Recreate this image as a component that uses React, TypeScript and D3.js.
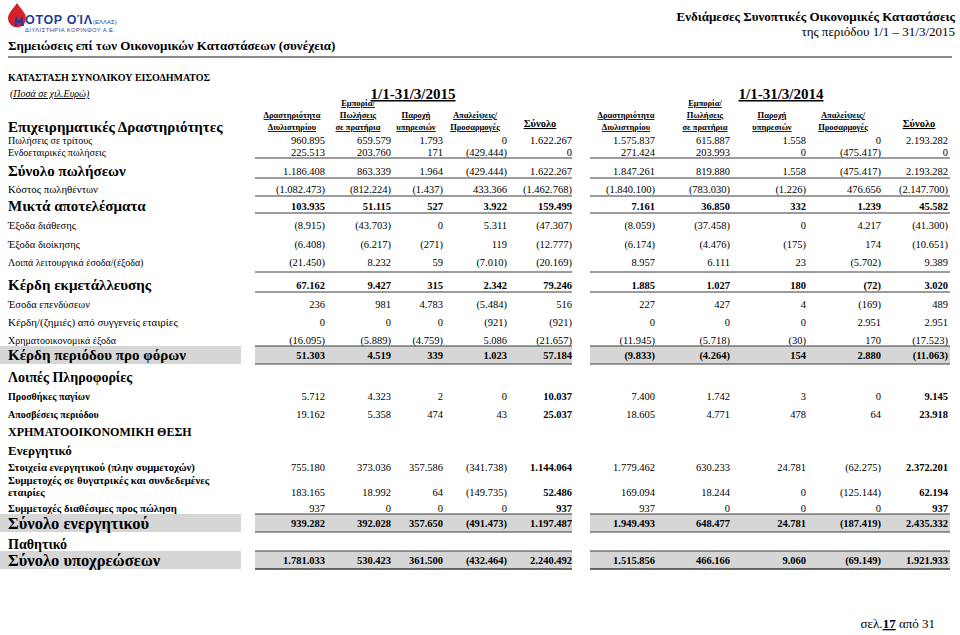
import * as d3 from 'd3';

const W = 960;
const H = 635;
const SERIF = '"Liberation Serif", "Times New Roman", serif';
const SANS = '"Liberation Sans", Arial, sans-serif';

// ---- data ----
const columns = ['refinery', 'retail', 'services', 'eliminations', 'total'];
const columnHeaders = [
  ['Δραστηριότητα', 'Διυλιστηρίου'],
  ['Εμπορία/', 'Πωλήσεις', 'σε πρατήρια'],
  ['Παροχή', 'υπηρεσιών'],
  ['Απαλείψεις/', 'Προσαρμογές'],
  ['Σύνολο'],
];
const periods = ['1/1-31/3/2015', '1/1-31/3/2014'];

const rowLabels = [
  'Πωλήσεις σε τρίτους',
  'Ενδοεταιρικές πωλήσεις',
  'Σύνολο πωλήσεων',
  'Κόστος πωληθέντων',
  'Μικτά αποτελέσματα',
  'Έξοδα διάθεσης',
  'Έξοδα διοίκησης',
  'Λοιπά λειτουργικά έσοδα/(έξοδα)',
  'Κέρδη εκμετάλλευσης',
  'Έσοδα επενδύσεων',
  'Κέρδη/(ζημιές) από συγγενείς εταιρίες',
  'Χρηματοοικονομικά έξοδα',
  'Κέρδη περιόδου προ φόρων',
  'Λοιπές Πληροφορίες',
  'Προσθήκες παγίων',
  'Αποσβέσεις περιόδου',
  'ΧΡΗΜΑΤΟΟΙΚΟΝΟΜΙΚΗ ΘΕΣΗ',
  'Ενεργητικό',
  'Στοιχεία ενεργητικού (πλην συμμετοχών)',
  'Συμμετοχές σε θυγατρικές και συνδεδεμένες\nεταιρίες',
  'Συμμετοχές διαθέσιμες προς πώληση',
  'Σύνολο ενεργητικού',
  'Παθητικό',
  'Σύνολο υποχρεώσεων',
];

const values2015: (number[] | null)[] = [
  [960895, 659579, 1793, 0, 1622267],
  [225513, 203760, 171, -429444, 0],
  [1186408, 863339, 1964, -429444, 1622267],
  [-1082473, -812224, -1437, 433366, -1462768],
  [103935, 51115, 527, 3922, 159499],
  [-8915, -43703, 0, 5311, -47307],
  [-6408, -6217, -271, 119, -12777],
  [-21450, 8232, 59, -7010, -20169],
  [67162, 9427, 315, 2342, 79246],
  [236, 981, 4783, -5484, 516],
  [0, 0, 0, -921, -921],
  [-16095, -5889, -4759, 5086, -21657],
  [51303, 4519, 339, 1023, 57184],
  null,
  [5712, 4323, 2, 0, 10037],
  [19162, 5358, 474, 43, 25037],
  null,
  null,
  [755180, 373036, 357586, -341738, 1144064],
  [183165, 18992, 64, -149735, 52486],
  [937, 0, 0, 0, 937],
  [939282, 392028, 357650, -491473, 1197487],
  null,
  [1781033, 530423, 361500, -432464, 2240492],
];

const values2014: (number[] | null)[] = [
  [1575837, 615887, 1558, 0, 2193282],
  [271424, 203993, 0, -475417, 0],
  [1847261, 819880, 1558, -475417, 2193282],
  [-1840100, -783030, -1226, 476656, -2147700],
  [7161, 36850, 332, 1239, 45582],
  [-8059, -37458, 0, 4217, -41300],
  [-6174, -4476, -175, 174, -10651],
  [8957, 6111, 23, -5702, 9389],
  [1885, 1027, 180, -72, 3020],
  [227, 427, 4, -169, 489],
  [0, 0, 0, 2951, 2951],
  [-11945, -5718, -30, 170, -17523],
  [-9833, -4264, 154, 2880, -11063],
  null,
  [7400, 1742, 3, 0, 9145],
  [18605, 4771, 478, 64, 23918],
  null,
  null,
  [1779462, 630233, 24781, -62275, 2372201],
  [169094, 18244, 0, -125144, 62194],
  [937, 0, 0, 0, 937],
  [1949493, 648477, 24781, -187419, 2435332],
  null,
  [1515856, 466166, 9060, -69149, 1921933],
];

// ---- layout ----
// y centre, label size, label bold, grey band, which values are bold
const rowLayout = [
  { y: 140, size: 10, bold: false, band: false, vb: 'none' },
  { y: 152, size: 10, bold: false, band: false, vb: 'none' },
  { y: 171, size: 15, bold: true, band: false, vb: 'none' },
  { y: 189, size: 10.8, bold: false, band: false, vb: 'none' },
  { y: 206, size: 15, bold: true, band: false, vb: 'all' },
  { y: 225, size: 10.5, bold: false, band: false, vb: 'none' },
  { y: 244, size: 10.5, bold: false, band: false, vb: 'none' },
  { y: 262, size: 10, bold: false, band: false, vb: 'none' },
  { y: 285, size: 15, bold: true, band: false, vb: 'all' },
  { y: 304, size: 10.5, bold: false, band: false, vb: 'none' },
  { y: 322, size: 11, bold: false, band: false, vb: 'none' },
  { y: 340, size: 10, bold: false, band: false, vb: 'none' },
  { y: 355, size: 15, bold: true, band: true, vb: 'all' },
  { y: 377, size: 14, bold: true, band: false, vb: 'none' },
  { y: 396, size: 10, bold: true, band: false, vb: 'total' },
  { y: 414, size: 10, bold: true, band: false, vb: 'total' },
  { y: 432, size: 12, bold: true, band: false, vb: 'none' },
  { y: 450, size: 13, bold: true, band: false, vb: 'none' },
  { y: 467, size: 10.7, bold: true, band: false, vb: 'total' },
  { y: 492, size: 10.7, bold: true, band: false, vb: 'total' },
  { y: 508, size: 10.7, bold: true, band: false, vb: 'total' },
  { y: 523, size: 16.5, bold: true, band: true, vb: 'all' },
  { y: 544, size: 14, bold: true, band: false, vb: 'none' },
  { y: 560, size: 16.5, bold: true, band: true, vb: 'all' },
];
const rules = [158, 178, 196, 213, 272, 292, 346, 364, 514, 532, 551, 569];
const groupSpan = [[255, 572], [590, 950]];
const periodCenter = [413, 781];
const numRight = [[325, 391, 443, 507, 572], [655, 730, 806, 881, 948]];
const headCenter = [[292, 358, 416, 475, 540], [626, 705, 772, 843, 919]];

const locale = d3.formatLocale({ decimal: ',', thousands: '.', grouping: [3], currency: ['', '€'] });
const fmt = locale.format('(,.0f');

export default function App() {
  const xNum = periods.map((_, p) => d3.scaleOrdinal<string, number>().domain(columns).range(numRight[p]));
  const xHead = periods.map((_, p) => d3.scaleOrdinal<string, number>().domain(columns).range(headCenter[p]));
  const valuesByPeriod = [values2015, values2014];

  return (
    <div style={{ position: 'absolute', left: 0, top: 0 }}>
      <svg width={W} height={H} style={{ display: 'block', background: '#fff' }} fontFamily={SERIF}>
        {/* logo */}
        <path d="M17,3 C21,9 26,13 26,18.5 A9,9 0 1 1 8,18.5 C8,13 13,9 17,3 Z" fill="#d8202c" />
        <path d="M14,26 L16,16 L19,21 L22,16 L24,26 L21,26 L20.5,21.5 L19,24 L17.5,21.5 L17,26 Z" fill="#1f3f99" />
        <text x={25} y={24} fontFamily={SANS} fontWeight="bold" fontSize={12.5} fill="#1f3f99" textLength={67}>OTOP OΊΛ</text>
        <text x={93} y={24} fontFamily={SANS} fontSize={6} fill="#1f3f99">(ΕΛΛΑΣ)</text>
        <text x={25} y={32} fontFamily={SANS} fontSize={5.8} fill="#1f3f99" textLength={90}>ΔΙΥΛΙΣΤΗΡΙΑ ΚΟΡΙΝΘΟΥ Α.Ε.</text>

        {/* page header */}
        <text x={8} y={50} fontSize={13} fontWeight="bold">Σημειώσεις επί των Οικονομικών Καταστάσεων (συνέχεια)</text>
        <text x={955} y={21} fontSize={13} fontWeight="bold" textAnchor="end">Ενδιάμεσες Συνοπτικές Οικονομικές Καταστάσεις</text>
        <text x={955} y={36} fontSize={13} textAnchor="end">της περιόδου 1/1 – 31/3/2015</text>
        <line x1={8} x2={952} y1={57} y2={57} stroke="#8a8a8a" strokeWidth={2} />

        <text x={8} y={81} fontSize={10} fontWeight="bold">ΚΑΤΑΣΤΑΣΗ ΣΥΝΟΛΙΚΟΥ ΕΙΣΟΔΗΜΑΤΟΣ</text>
        <text x={10} y={97} fontSize={10} fontStyle="italic" style={{ textDecoration: 'underline' }}>(Ποσά σε χιλ.Ευρώ)</text>
        <text x={8} y={132} fontSize={15} fontWeight="bold">Επιχειρηματικές Δραστηριότητες</text>

        {/* grey bands */}
        {rowLayout.map((r, i) =>
          r.band ? (
            <g key={`band${i}`} fill="#d6d6d6">
              <rect x={0} y={r.y - 9} width={241} height={18} />
              {groupSpan.map((g, p) => (
                <rect key={p} x={g[0]} y={r.y - 9} width={g[1] - g[0]} height={18} />
              ))}
            </g>
          ) : null,
        )}

        {/* period headings and column headers */}
        {periods.map((per, p) => (
          <g key={per}>
            <text x={periodCenter[p]} y={99} fontSize={15} fontWeight="bold" textAnchor="middle" style={{ textDecoration: 'underline' }}>
              {per}
            </text>
            {columns.map((c, ci) => {
              const lines = columnHeaders[ci];
              const isTotal = c === 'total';
              return lines.map((ln, li) => (
                <text
                  key={c + li}
                  x={xHead[p](c)}
                  y={isTotal ? 127 : 130 - (lines.length - 1 - li) * 12}
                  fontSize={isTotal ? 10.5 : 8.5}
                  fontWeight="bold"
                  textAnchor="middle"
                  style={{ textDecoration: 'underline' }}
                >
                  {ln}
                </text>
              ));
            })}
          </g>
        ))}

        {/* rules */}
        {rules.map((y) =>
          groupSpan.map((g, p) => (
            <line key={`${y}-${p}`} x1={g[0]} x2={g[1]} y1={y} y2={y} stroke="#3a3a3a" strokeWidth={y === 569 ? 1.5 : 1} />
          )),
        )}

        {/* row labels */}
        {rowLabels.map((lab, i) => {
          const r = rowLayout[i];
          const lines = lab.split('\n');
          return lines.map((ln, li) => (
            <text
              key={`l${i}-${li}`}
              x={8}
              y={r.y + r.size * 0.35 - (lines.length - 1 - li) * 12}
              fontSize={r.size}
              fontWeight={r.bold ? 'bold' : 'normal'}
            >
              {ln}
            </text>
          ));
        })}

        {/* values */}
        {valuesByPeriod.map((vals, p) =>
          vals.map((row, i) =>
            row
              ? row.map((v, ci) => {
                  const r = rowLayout[i];
                  const bold = r.vb === 'all' || (r.vb === 'total' && columns[ci] === 'total');
                  return (
                    <text
                      key={`v${p}-${i}-${ci}`}
                      x={xNum[p](columns[ci])}
                      y={r.y + 3.7}
                      fontSize={10.5}
                      fontWeight={bold ? 'bold' : 'normal'}
                      textAnchor="end"
                    >
                      {fmt(v)}
                    </text>
                  );
                })
              : null,
          ),
        )}

        {/* footer */}
        <text x={935} y={628} fontSize={13} textAnchor="end">
          σελ.<tspan fontWeight="bold" style={{ textDecoration: 'underline' }}>17</tspan> από 31
        </text>
      </svg>
    </div>
  );
}
